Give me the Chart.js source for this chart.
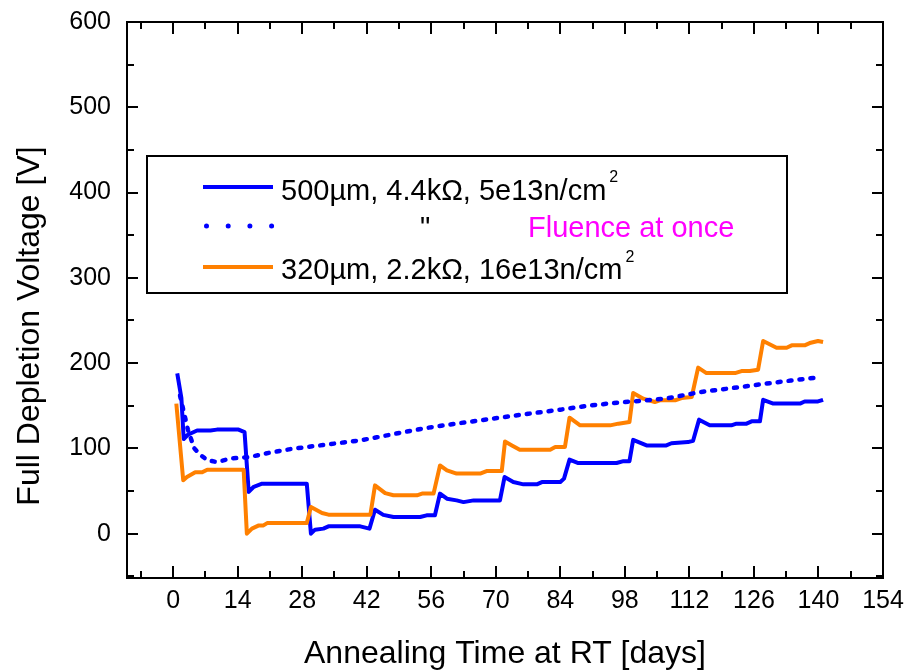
<!DOCTYPE html>
<html lang="en">
<head>
    <meta charset="UTF-8">
    <title>Full Depletion Voltage vs Annealing Time</title>
    <script src="https://cdn.jsdelivr.net/npm/chart.js"></script>
    <style>
        html, body { margin: 0; padding: 0; background: #fff; }
        #wrap { width: 909px; height: 671px; }
    </style>
</head>
<body>
    <div id="wrap">
        <canvas id="fdvChart" width="909" height="671"></canvas>
    </div>

    <script>
        // 500um, 4.4kOhm, 5e13 n/cm2 (step-wise irradiation)
        const blueDays = [0.9, 1.8, 2.3, 3.2, 5.2, 8.1, 9.5, 14.2, 15.5, 16.4, 17.5, 19.3, 29, 29.9, 30.8, 32.6, 33.7, 40.6, 42.6,
            43.8, 45.6, 47.8, 53.6, 55, 56.8, 57.9, 59.4, 61.5, 63, 65.2, 70.9, 71.9, 73.8, 76, 78.9, 80, 84, 84.8,
            86, 87.9, 96.2, 97.7, 99, 99.8, 102.7, 107, 108.1, 111.7, 112.8, 114.1, 116.4, 121.1, 122.2, 124.4,
            125.5, 127.3, 128, 130.2, 136, 137, 139.9, 141];
        const blueVolts = [188, 159, 111, 116, 121, 121, 122, 122, 119, 49, 55, 58.6, 58.6, 0, 4.7, 5.9, 8.6, 8.6, 5.9,
            28, 22, 19.5, 19.5, 21.5, 21.5, 47, 41, 39, 37, 39, 39, 66.4, 60.5, 57.8, 57.8, 60.5, 60.5, 64.5,
            86.8, 82.8, 82.8, 85, 85, 110, 103.5, 103.5, 106, 107.4, 109, 133.7, 127, 127, 129, 129,
            131.7, 131.7, 157, 152.5, 152.5, 155, 155, 157];

        // same diode, whole fluence at once
        const onceDays = [1.5, 3.2, 4.6, 6, 7.5, 9.5, 12.4, 16.7, 21, 26.1, 31.9, 37, 40.6, 44.2, 50, 55, 62, 69.5, 77, 84,
            90, 97, 102, 107, 114.3, 121, 128.7, 134, 139.6];
        const onceVolts = [162, 122, 100, 92, 86, 84, 88, 90, 95, 99.7, 103.5, 107, 109.4, 113, 119, 124, 129.5, 135, 140.5, 145.4,
            150, 154, 156, 158.5, 166, 170.5, 176, 179.5, 183];

        // 320um, 2.2kOhm, 16e13 n/cm2
        const orangeDays = [0.7, 2.2, 3, 4.8, 6.3, 7.4, 15.3, 16, 17.1, 18.6, 19.6, 20.4, 29, 29.9, 32.3, 33.7, 42.8, 43.8,
            46, 47.8, 52.9, 54, 56.5, 57.9, 59.4, 61.5, 66.6, 68, 71.3, 72, 73.5, 75.2, 81.8, 82.9, 85, 86, 88.3,
            94.8, 96.6, 99, 99.8, 102, 104.5, 105.6, 108.9, 110.3, 112.5, 113.9, 115.7, 121.9, 123.3, 125.1,
            126.9, 128, 130.9, 133.1, 134.2, 137, 138.1, 139.9, 141];
        const orangeVolts = [152.5, 62.5, 66.4, 72, 72, 75, 75, 0, 5.9, 9.7, 9.7, 12.4, 12.4, 31.2, 24.2, 22.3, 22.3, 56.6,
            47.6, 45, 45, 47, 47, 80, 74.2, 70.4, 70.4, 73.4, 73.4, 108, 103.5, 98.5, 98.5, 101.6, 101.6, 136, 127,
            127, 129, 131, 165, 158.3, 154.4, 156.3, 156.3, 159, 160.3, 194.7, 188.3, 188.3, 190.7, 190.7,
            192.3, 225.9, 218, 218, 220.8, 220.8, 223.5, 225.9, 224.7];

        const xTicks = [0, 14, 28, 42, 56, 70, 84, 98, 112, 126, 140, 154];
        const xMinor = [-7, 7, 21, 35, 49, 63, 77, 91, 105, 119, 133, 147];
        const yTicks = [0, 100, 200, 300, 400, 500, 600];
        const yMinor = [-50, 50, 150, 250, 350, 450, 550];

        const BLUE = '#0000ff';
        const ORANGE = '#ff8000';
        const FONT = '"Liberation Sans", Arial, sans-serif';

        const pts = (xs, ys) => xs.map((x, i) => ({ x: x, y: ys[i] }));

        // frame with inward ticks on all four sides, like the original plot
        const framePlugin = {
            id: 'frame',
            afterDatasetsDraw(chart) {
                const { ctx, chartArea: a, scales: { x, y } } = chart;
                ctx.save();
                ctx.strokeStyle = '#000';
                ctx.lineWidth = 2;
                ctx.strokeRect(a.left, a.top, a.right - a.left, a.bottom - a.top);
                ctx.beginPath();
                const tickX = (v, len) => {
                    const px = Math.round(x.getPixelForValue(v));
                    ctx.moveTo(px, a.bottom); ctx.lineTo(px, a.bottom - len);
                    ctx.moveTo(px, a.top); ctx.lineTo(px, a.top + len);
                };
                const tickY = (v, len) => {
                    const py = Math.round(y.getPixelForValue(v));
                    ctx.moveTo(a.left, py); ctx.lineTo(a.left + len, py);
                    ctx.moveTo(a.right, py); ctx.lineTo(a.right - len, py);
                };
                xTicks.forEach(v => tickX(v, 12));
                xMinor.forEach(v => tickX(v, 7));
                yTicks.forEach(v => tickY(v, 11));
                yMinor.forEach(v => tickY(v, 7));
                ctx.stroke();

                // y axis title (sits a bit below the plot centre in the original)
                ctx.fillStyle = '#000';
                ctx.font = '32px ' + FONT;
                ctx.textAlign = 'center';
                ctx.textBaseline = 'middle';
                ctx.translate(30, 326);
                ctx.rotate(-Math.PI / 2);
                ctx.fillText('Full Depletion Voltage [V]', 0, 0);
                ctx.restore();
            }
        };

        // boxed legend drawn by hand to get the superscripts and the magenta note
        const legendPlugin = {
            id: 'boxLegend',
            afterDraw(chart) {
                const ctx = chart.ctx;
                ctx.save();
                ctx.strokeStyle = '#000';
                ctx.lineWidth = 2;
                ctx.strokeRect(147, 156, 640, 137);

                ctx.lineWidth = 4;
                ctx.lineCap = 'butt';
                ctx.strokeStyle = BLUE;
                ctx.beginPath(); ctx.moveTo(203, 187); ctx.lineTo(273, 187); ctx.stroke();
                ctx.strokeStyle = ORANGE;
                ctx.beginPath(); ctx.moveTo(203, 267); ctx.lineTo(273, 267); ctx.stroke();

                ctx.strokeStyle = BLUE;
                ctx.lineWidth = 5;
                ctx.lineCap = 'round';
                ctx.setLineDash([0, 21.7]);
                ctx.beginPath(); ctx.moveTo(206.5, 226); ctx.lineTo(273, 226); ctx.stroke();
                ctx.setLineDash([]);

                ctx.textBaseline = 'alphabetic';
                ctx.textAlign = 'left';
                ctx.font = '29px ' + FONT;
                ctx.fillStyle = '#000';
                const t1 = '500\u00b5m, 4.4k\u03a9, 5e13n/cm';
                const t3 = '320\u00b5m, 2.2k\u03a9, 16e13n/cm';
                ctx.fillText(t1, 281, 200);
                ctx.fillText(t3, 281, 279);
                ctx.fillText('"', 420, 237);
                const w1 = ctx.measureText(t1).width;
                const w3 = ctx.measureText(t3).width;
                ctx.fillStyle = '#ff00ff';
                ctx.fillText('Fluence at once', 528, 237);

                ctx.fillStyle = '#000';
                ctx.font = '16px ' + FONT;
                ctx.fillText('2', 281 + w1 + 3, 182);
                ctx.fillText('2', 281 + w3 + 3, 262);
                ctx.restore();
            }
        };

        const ctx = document.getElementById('fdvChart').getContext('2d');
        new Chart(ctx, {
            type: 'line',
            data: {
                datasets: [
                    {
                        label: '500\u00b5m, 4.4k\u03a9, 5e13n/cm2',
                        data: pts(blueDays, blueVolts),
                        borderColor: BLUE,
                        borderWidth: 4,
                        order: 2
                    },
                    {
                        label: 'Fluence at once',
                        data: pts(onceDays, onceVolts),
                        borderColor: BLUE,
                        borderWidth: 4.5,
                        borderDash: [3, 8],
                        borderCapStyle: 'round',
                        order: 0
                    },
                    {
                        label: '320\u00b5m, 2.2k\u03a9, 16e13n/cm2',
                        data: pts(orangeDays, orangeVolts),
                        borderColor: ORANGE,
                        borderWidth: 4,
                        order: 1
                    }
                ]
            },
            options: {
                responsive: false,
                animation: false,
                devicePixelRatio: 1,
                elements: {
                    point: { radius: 0, hoverRadius: 0 },
                    line: { tension: 0, borderJoinStyle: 'round', fill: false }
                },
                layout: { padding: { top: 22, right: 26, left: 0, bottom: 0 } },
                plugins: {
                    legend: { display: false },
                    tooltip: { enabled: false }
                },
                scales: {
                    x: {
                        type: 'linear',
                        min: -10,
                        max: 154,
                        grid: { display: false, drawTicks: false },
                        border: { display: false },
                        afterBuildTicks: s => { s.ticks = xTicks.map(v => ({ value: v })); },
                        afterFit: s => { s.height = 93; s.paddingLeft = 0; s.paddingRight = 0; },
                        ticks: {
                            color: '#000',
                            padding: 8,
                            maxRotation: 0,
                            autoSkip: false,
                            font: { family: FONT, size: 25 }
                        },
                        title: {
                            display: true,
                            text: 'Annealing Time at RT [days]',
                            color: '#000',
                            font: { family: FONT, size: 32, lineHeight: 1 },
                            padding: { top: 0, bottom: 1 }
                        }
                    },
                    y: {
                        type: 'linear',
                        min: -52,
                        max: 600,
                        grid: { display: false, drawTicks: false },
                        border: { display: false },
                        afterBuildTicks: s => { s.ticks = yTicks.map(v => ({ value: v })); },
                        afterFit: s => { s.width = 127; s.paddingTop = 0; s.paddingBottom = 0; },
                        ticks: {
                            color: '#000',
                            padding: 16,
                            autoSkip: false,
                            font: { family: FONT, size: 25 }
                        }
                    }
                }
            },
            plugins: [framePlugin, legendPlugin]
        });
    </script>
</body>
</html>
